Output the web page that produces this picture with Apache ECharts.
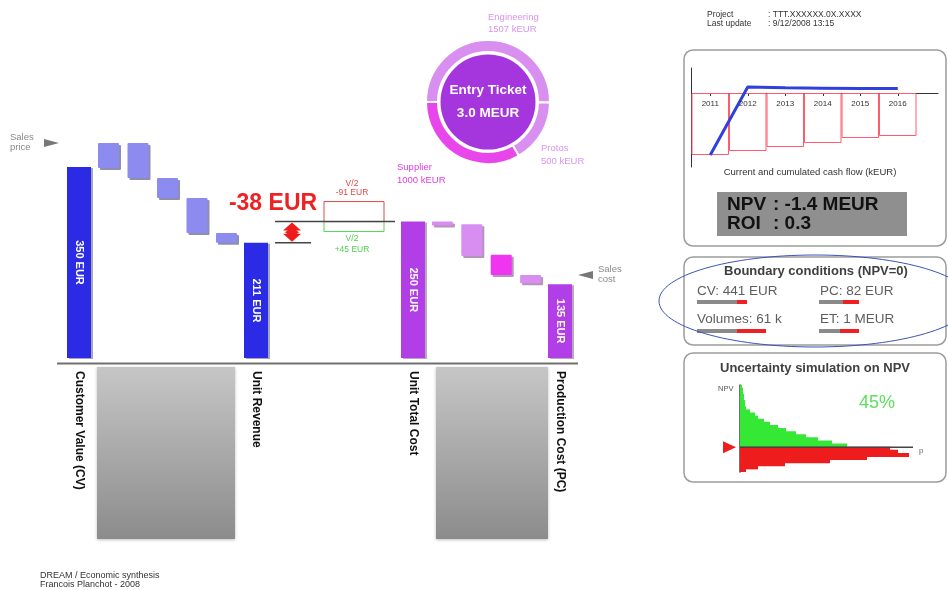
<!DOCTYPE html>
<html><head><meta charset="utf-8">
<script src="https://cdn.jsdelivr.net/npm/echarts@6/dist/echarts.min.js"></script>
<style>html,body{margin:0;padding:0;background:#fff}#c{width:948px;height:590px}</style>
</head><body><div id="c"></div>
<script>
// ---------------- DATA ----------------
const revenueCategories = ['Customer Value (CV)', '', '', '', '', '', 'Unit Revenue'];
const revenueTotals = [350, null, null, null, null, null, 211];
const revenueStepLow = [null, 348, 330, 293, 229, 211, null];
const revenueStepHigh = [null, 394, 394, 330, 293, 229, null];
const costCategories = ['Unit Total Cost', '', '', '', '', 'Production Cost (PC)'];
const costTotals = [250, null, null, null, null, 135];
const costStepLow = [null, 243, 187, 152, 137, null];
const costStepHigh = [null, 250, 245, 189, 152, null];
const salesPrice = 394;
const salesCost = 152;
const marginText = '-38 EUR';
const variantDown = ['V/2', '-91 EUR'];
const variantUp = ['V/2', '+45 EUR'];
const entryLabels = ['Engineering', 'Protos', 'Supplier'];
const entryValues = [1507, 500, 1000];
const entryTitle = 'Entry Ticket';
const entryTotal = '3.0 MEUR';
const cashYears = [2011, 2012, 2013, 2014, 2015, 2016];
const cashCurrent = [-1550, -1450, -1350, -1250, -1125, -1075];
const cashCumulated = [-1550, 150, 130, 120, 110, 110];
const cashCaption = 'Current and cumulated cash flow (kEUR)';
const npvText = ': -1.4 MEUR';
const roiText = ': 0.3';
const boundaryNames = ['CV: 441 EUR', 'Volumes: 61 k', 'PC: 82 EUR', 'ET: 1 MEUR'];
const boundaryBase = [40, 40, 24, 21];
const boundaryExcess = [10, 29, 16, 19];
const npvBins = [3.9, 3.7, 3.5, 3.3, 3.1, 2.9, 2.7, 2.5, 2.3, 2.1, 1.9, 1.7, 1.5, 1.3, 1.1, 0.9, 0.7, 0.5, 0.3, 0.1,
                 -0.1, -0.3, -0.5, -0.7, -0.9, -1.1, -1.3, -1.5];
const npvFreq = [2, 3, 3, 4, 4, 5, 5, 6, 10, 15, 18, 24, 30, 38, 46, 56, 66, 78, 92, 107,
                 150, 158, 169, 127, 90, 45, 18, 6];
const positiveShare = '45%';

// ---------------- STYLE ----------------
const FONT = '"Liberation Sans", Arial, sans-serif';
const BLUE = '#2b2be6', BLUE_STEP = '#8b8bf0';
const PURPLE = '#b23ee8', PURPLE_STEP = '#d88ef0', MAGENTA = '#f035f0';
const GREEN_H = '#35e835', RED_H = '#ee1c1c';

const dash = v => (v == null ? '-' : v);
const chart = echarts.init(document.getElementById('c'));

const catLabel = {
  interval: 0, rotate: -90, margin: 13, fontFamily: FONT, fontWeight: 'bold',
  fontSize: 12, color: '#111'
};
const totalLabel = {
  show: true, position: 'inside', rotate: -90, color: '#fff', fontFamily: FONT,
  fontWeight: 'bold', fontSize: 11, formatter: p => p.value + ' EUR'
};
const hidden = { show: false };
const binH = 87 / npvBins.length;

const option = {
  animation: false,
  grid: [
    { left: 64.25, top: 139.7, width: 206.5, height: 218.3 },
    { left: 398.3, top: 139.7, width: 176.4, height: 218.3 },
    { left: 691.5, top: 68, width: 246.5, height: 99 },
    { left: 697, top: 287.5, width: 100, height: 58 },
    { left: 819, top: 287.5, width: 100, height: 58 },
    { left: 740, top: 385, width: 173, height: 87 }
  ],
  xAxis: [
    { gridIndex: 0, type: 'category', data: revenueCategories, axisLine: hidden, axisTick: hidden, axisLabel: catLabel },
    { gridIndex: 0, type: 'category', data: revenueCategories, show: false },
    { gridIndex: 1, type: 'category', data: costCategories, axisLine: hidden, axisTick: hidden, axisLabel: catLabel },
    { gridIndex: 1, type: 'category', data: costCategories, show: false },
    { gridIndex: 2, type: 'value', min: 2010.5, max: 2017.073, splitLine: hidden,
      axisLine: { onZero: true, lineStyle: { color: '#333', width: 1 } },
      axisTick: { customValues: cashYears, length: 3, lineStyle: { color: '#333' } },
      axisLabel: hidden },
    { gridIndex: 3, type: 'value', min: 0, max: 100, show: false },
    { gridIndex: 4, type: 'value', min: 0, max: 100, show: false },
    { gridIndex: 5, type: 'value', min: 0, max: 173, show: false }
  ],
  yAxis: [
    { gridIndex: 0, type: 'value', min: 0, max: 400, show: false },
    { gridIndex: 1, type: 'value', min: 0, max: 400, show: false },
    { gridIndex: 2, type: 'value', min: -1850, max: 625, splitLine: hidden, axisTick: hidden, axisLabel: hidden,
      axisLine: { show: true, lineStyle: { color: '#333', width: 1 } } },
    { gridIndex: 3, type: 'category', inverse: true, data: boundaryNames.slice(0, 2), show: false },
    { gridIndex: 4, type: 'category', inverse: true, data: boundaryNames.slice(2, 4), show: false },
    { gridIndex: 5, type: 'category', inverse: true, data: npvBins, axisTick: hidden, axisLabel: hidden,
      axisLine: { show: true, lineStyle: { color: '#444', width: 1.5 } } }
  ],
  series: [
    { type: 'bar', xAxisIndex: 0, yAxisIndex: 0, barWidth: 24, data: revenueTotals.map(dash),
      itemStyle: { color: BLUE, shadowColor: 'rgba(0,0,60,0.35)', shadowOffsetX: 2, shadowOffsetY: 1 }, label: totalLabel },
    { type: 'bar', xAxisIndex: 1, yAxisIndex: 0, barWidth: 21, stack: 'rev', silent: true,
      data: revenueStepLow.map(dash), itemStyle: { color: 'rgba(0,0,0,0)' } },
    { type: 'bar', xAxisIndex: 1, yAxisIndex: 0, barWidth: 21, stack: 'rev',
      data: revenueStepLow.map((v, i) => v == null ? '-' : revenueStepHigh[i] - v),
      itemStyle: { color: BLUE_STEP, borderRadius: 1, shadowColor: 'rgba(50,50,110,0.55)', shadowOffsetX: 2, shadowOffsetY: 2, shadowBlur: 0 } },
    { type: 'bar', xAxisIndex: 2, yAxisIndex: 1, barWidth: 24, data: costTotals.map(dash),
      itemStyle: { color: PURPLE, shadowColor: 'rgba(60,0,60,0.35)', shadowOffsetX: 2, shadowOffsetY: 1 }, label: totalLabel },
    { type: 'bar', xAxisIndex: 3, yAxisIndex: 1, barWidth: 21, stack: 'cost', silent: true,
      data: costStepLow.map(dash), itemStyle: { color: 'rgba(0,0,0,0)' } },
    { type: 'bar', xAxisIndex: 3, yAxisIndex: 1, barWidth: 21, stack: 'cost',
      data: costStepLow.map((v, i) => v == null ? '-' : costStepHigh[i] - v),
      itemStyle: { color: p => (p.dataIndex === 3 ? MAGENTA : PURPLE_STEP), borderRadius: 1,
        shadowColor: 'rgba(110,40,120,0.5)', shadowOffsetX: 2, shadowOffsetY: 2, shadowBlur: 0 } },
    { type: 'bar', xAxisIndex: 4, yAxisIndex: 2, barWidth: 37.5, silent: true,
      data: cashYears.map((y, i) => [y, cashCurrent[i]]),
      itemStyle: { color: 'rgba(0,0,0,0)', borderColor: '#ff5a6e', borderWidth: 1 } },
    { type: 'line', xAxisIndex: 4, yAxisIndex: 2, symbol: 'none', z: 5,
      data: cashYears.map((y, i) => [y, cashCumulated[i]]),
      lineStyle: { color: '#3040dc', width: 3 } },
    { type: 'bar', xAxisIndex: 5, yAxisIndex: 3, barWidth: 4, stack: 'b1', data: boundaryBase.slice(0, 2), itemStyle: { color: '#8a8a8a' } },
    { type: 'bar', xAxisIndex: 5, yAxisIndex: 3, barWidth: 4, stack: 'b1', data: boundaryExcess.slice(0, 2), itemStyle: { color: '#ee2020' } },
    { type: 'bar', xAxisIndex: 6, yAxisIndex: 4, barWidth: 4, stack: 'b2', data: boundaryBase.slice(2, 4), itemStyle: { color: '#8a8a8a' } },
    { type: 'bar', xAxisIndex: 6, yAxisIndex: 4, barWidth: 4, stack: 'b2', data: boundaryExcess.slice(2, 4), itemStyle: { color: '#ee2020' } },
    { type: 'bar', xAxisIndex: 7, yAxisIndex: 5, barWidth: binH + 0.9, data: npvFreq,
      itemStyle: { color: p => (npvBins[p.dataIndex] > 0 ? GREEN_H : RED_H) } },
    { type: 'pie', center: [488, 102], radius: [50, 62], startAngle: 180, silent: true,
      label: hidden, labelLine: hidden,
      itemStyle: { borderColor: '#fff', borderWidth: 2 },
      data: entryLabels.map((n, i) => ({ name: n, value: entryValues[i],
        itemStyle: { color: i === 2 ? '#e845ea' : '#d88ff0' } })) },
    { type: 'pie', center: [488, 102], radius: [0, 47.5], silent: true, labelLine: hidden,
      data: [{ name: entryTitle, value: entryValues.reduce((a, b) => a + b, 0) }],
      itemStyle: { color: '#a535dc' },
      label: { show: true, position: 'center', formatter: entryTitle + '\n' + entryTotal,
        color: '#fff', fontFamily: FONT, fontWeight: 'bold', fontSize: 13.5, lineHeight: 23 } }
  ]
};
chart.setOption(option);

// ---------------- DECORATION (positions via the chart's scales) ----------------
const yRev = v => chart.convertToPixel({ yAxisIndex: 0 }, v);
const yCost = v => chart.convertToPixel({ yAxisIndex: 1 }, v);
const xCash = v => chart.convertToPixel({ xAxisIndex: 4 }, v);
const yCash0 = chart.convertToPixel({ yAxisIndex: 2 }, 0);
const ySP = yRev(salesPrice), ySC = yCost(salesCost);
const yUTC = yCost(costTotals[0]), yUR = yRev(revenueTotals[6]);
const yZero = 385 + binH * npvBins.filter(v => v > 0).length;

const txt = (x, y, text, size, color, extra) => ({
  type: 'text', x, y, z: 100,
  style: Object.assign({ text, fontSize: size, fill: color, fontFamily: FONT, verticalAlign: 'middle' }, extra || {})
});
const line = (x1, y1, x2, y2, color, w) => ({ type: 'line', z: 90, shape: { x1, y1, x2, y2 }, style: { stroke: color, lineWidth: w } });
const panel = (x, y, w, h) => ({ type: 'rect', z: -10, shape: { x, y, width: w, height: h, r: 9 },
  style: { fill: '#fff', stroke: '#9c9c9c', lineWidth: 1.5 } });
const grad = { type: 'linear', x: 0, y: 0, x2: 0, y2: 1,
  colorStops: [{ offset: 0, color: '#c6c6c6' }, { offset: 1, color: '#8c8c8c' }] };

const g = [
  line(57, 363.5, 578, 363.5, '#707070', 2),
  { type: 'rect', z: -5, shape: { x: 97, y: 367, width: 138, height: 172 }, style: { fill: grad, shadowColor: 'rgba(0,0,0,0.25)', shadowBlur: 3, shadowOffsetY: 1 } },
  { type: 'rect', z: -5, shape: { x: 436, y: 367, width: 112, height: 172 }, style: { fill: grad, shadowColor: 'rgba(0,0,0,0.25)', shadowBlur: 3, shadowOffsetY: 1 } },
  txt(10, ySP - 6, 'Sales', 9.5, '#8a8a8a'), txt(10, ySP + 4, 'price', 9.5, '#8a8a8a'),
  { type: 'polygon', z: 90, shape: { points: [[44, ySP - 4], [59, ySP], [44, ySP + 4]] }, style: { fill: '#777' } },
  txt(598, ySC - 6, 'Sales', 9.5, '#8a8a8a'), txt(598, ySC + 4, 'cost', 9.5, '#8a8a8a'),
  { type: 'polygon', z: 90, shape: { points: [[593, ySC - 4], [578, ySC], [593, ySC + 4]] }, style: { fill: '#777' } },
  txt(273, 203.5, marginText, 23, '#ee2222', { fontWeight: 'bold', align: 'center' }),
  { type: 'rect', z: 85, shape: { x: 324, y: yUTC - 20, width: 60, height: 20 }, style: { fill: 'none', stroke: '#e04848', lineWidth: 1 } },
  { type: 'rect', z: 85, shape: { x: 324, y: yUTC, width: 60, height: 10 }, style: { fill: 'none', stroke: '#55d055', lineWidth: 1 } },
  txt(352, yUTC - 38, variantDown[0], 8.5, '#e04848', { align: 'center' }),
  txt(352, yUTC - 28.5, variantDown[1], 8.5, '#e04848', { align: 'center' }),
  txt(352, yUTC + 17, variantUp[0], 8.5, '#4fcf4f', { align: 'center' }),
  txt(352, yUTC + 28, variantUp[1], 8.5, '#4fcf4f', { align: 'center' }),
  line(275, yUTC, 395, yUTC, '#444', 1.5),
  line(275, yUR, 311, yUR, '#444', 1.5),
  { type: 'polygon', z: 95, shape: { points: [[292, yUTC + 1], [301, yUTC + 9], [296, yUTC + 9], [296, yUR - 9], [301, yUR - 9], [292, yUR - 1], [283, yUR - 9], [288, yUR - 9], [288, yUTC + 9], [283, yUTC + 9]] }, style: { fill: '#ee1c1c' } },
  { type: 'polygon', z: 95, shape: { points: [[292, (yUTC + yUR) / 2 - 5], [299, (yUTC + yUR) / 2], [292, (yUTC + yUR) / 2 + 5], [285, (yUTC + yUR) / 2]] }, style: { fill: '#ee1c1c' } },
  txt(488, 17, entryLabels[0], 9.5, '#d894ef'), txt(488, 29, entryValues[0] + ' kEUR', 9.5, '#d894ef'),
  txt(541, 148, entryLabels[1], 9.5, '#d894ef'), txt(541, 161, entryValues[1] + ' kEUR', 9.5, '#d894ef'),
  txt(397, 167, entryLabels[2], 9.5, '#e03fe0'), txt(397, 180, entryValues[2] + ' kEUR', 9.5, '#e03fe0'),
  txt(707, 15, 'Project', 8.5, '#333'), txt(768, 15, ': TTT.XXXXXX.0X.XXXX', 8.5, '#333'),
  txt(707, 24, 'Last update', 8.5, '#333'), txt(768, 24, ': 9/12/2008 13:15', 8.5, '#333'),
  txt(40, 576, 'DREAM / Economic synthesis', 9, '#333'),
  txt(40, 585, 'Francois Planchot - 2008', 9, '#333'),
  panel(684, 50, 262, 196), panel(684, 257, 262, 88), panel(684, 353, 262, 129),
  txt(810, 172, cashCaption, 9.5, '#333', { align: 'center' }),
  { type: 'rect', z: 50, shape: { x: 717, y: 192, width: 190, height: 44 }, style: { fill: '#8f8f8f' } },
  txt(727, 205, 'NPV', 19, '#111', { fontWeight: 'bold' }), txt(773, 205, npvText, 19, '#111', { fontWeight: 'bold' }),
  txt(727, 224, 'ROI', 19, '#111', { fontWeight: 'bold' }), txt(773, 224, roiText, 19, '#111', { fontWeight: 'bold' }),
  txt(816, 271, 'Boundary conditions (NPV=0)', 13, '#404040', { fontWeight: 'bold', align: 'center' }),
  txt(697, 291, boundaryNames[0], 13.5, '#5e5e5e'), txt(697, 319, boundaryNames[1], 13.5, '#5e5e5e'),
  txt(820, 291, boundaryNames[2], 13.5, '#5e5e5e'), txt(820, 319, boundaryNames[3], 13.5, '#5e5e5e'),
  { type: 'ellipse', z: 110, shape: { cx: 815, cy: 301, rx: 156, ry: 46 }, style: { fill: 'none', stroke: '#3d52b8', lineWidth: 1 } },
  txt(815, 368, 'Uncertainty simulation on NPV', 13, '#404040', { fontWeight: 'bold', align: 'center' }),
  txt(718, 389, 'NPV', 7.5, '#555'),
  txt(877, 403, positiveShare, 18, '#5de05d', { align: 'center' }),
  line(740, yZero, 913, yZero, '#444', 1.5),
  txt(919, yZero + 4, 'p', 8, '#666'),
  { type: 'polygon', z: 90, shape: { points: [[723, yZero - 6], [736, yZero], [723, yZero + 6]] }, style: { fill: '#ee1c1c' } }
].concat(cashYears.map(y => txt(xCash(y), yCash0 + 11, String(y), 8, '#333', { align: 'center' })));
chart.setOption({ graphic: g });
</script></body></html>
